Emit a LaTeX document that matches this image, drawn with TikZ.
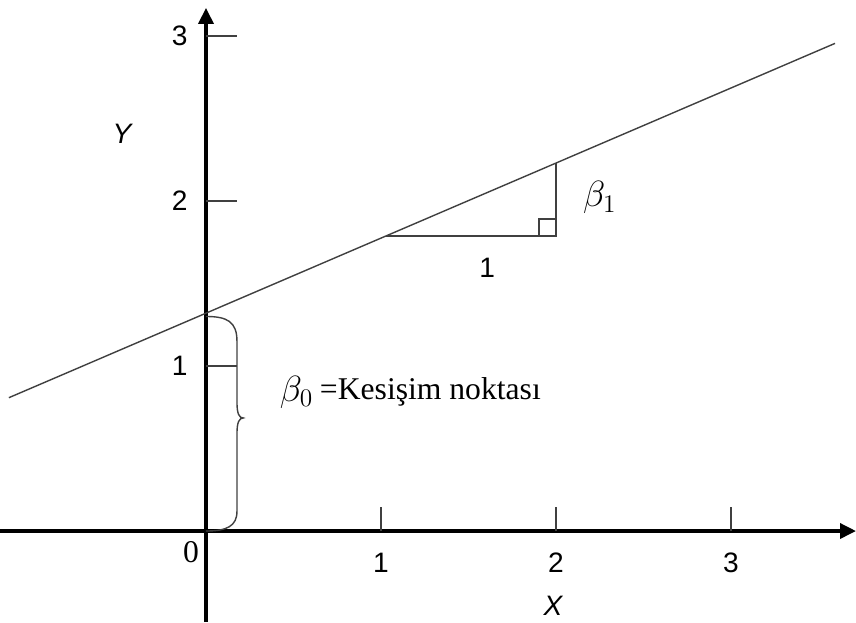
\documentclass[tikz,border=0pt]{standalone}
\usepackage{fontspec}
\setmainfont{Liberation Serif}
\setsansfont{Liberation Sans}
\usetikzlibrary{arrows.meta}

\begin{document}
\begin{tikzpicture}[x=3.5cm, y=3.3cm,
      axis/.style={line width=2pt, -{Triangle[length=0.32cm, width=0.3cm]}},
      thin/.style={line width=0.8pt, black!75},
      ticklbl/.style={font=\sffamily\fontsize{16}{18}\selectfont},
      axislbl/.style={font=\sffamily\itshape\fontsize{16}{18}\selectfont},
      serlbl/.style={font=\fontsize{18}{21}\selectfont},
      betalbl/.style={font=\fontsize{21}{24}\selectfont}
    ]
      \useasboundingbox (-1.177,-0.552) rectangle (3.714,3.218);
      % axes
      \coordinate (O) at (0,0);
      \coordinate (xs) at (-1.177,0);
      \coordinate (xe) at (3.714,0);
      \coordinate (ys) at (0,-0.552);
      \coordinate (ye) at (0,3.17);
      \draw[axis] (xs) -- (xe);
      \draw[axis] (ys) -- (ye);
      \foreach \i in {1,2,3} {
        \draw[thin] (\i,0) -- (\i,0.145);
        \node[ticklbl] (x\i) at (\i,-0.19) {\i};
        \draw[thin] (0,\i) -- (0.177,\i);
        \node[ticklbl] (y\i) at (-0.15,\i) {\i};
      }
      \node[axislbl] (X) at (1.983,-0.455) {X};
      \node[axislbl] (Y) at (-0.48,2.41) {Y};
      \node[font=\fontsize{18}{20}\selectfont] (zero) at (-0.086,-0.127) {0};
      % regression line
      \coordinate (L1) at (-1.126,0.808);
      \coordinate (L2) at (3.594,2.955);
      \draw[thin] (L1) -- (L2);
      % slope triangle
      \coordinate (P) at (1.03,1.789);
      \coordinate (Q) at (2,1.789);
      \coordinate (R) at (2,2.23);
      \draw[thin] (P) -- (Q) -- (R);
      \draw[thin] ([xshift=-0.34cm]Q) |- ([yshift=0.34cm]Q);
      \node[ticklbl] (one) at (1.606,1.594) {1};
      \node[betalbl] (b1) at (2.25,2.02) {$\beta_1$};
      % brace for the intercept
      \draw[thin] (0,1.3) .. controls (0.12,1.3) and (0.177,1.27) .. (0.177,1.15)
        -- (0.177,0.78) .. controls (0.177,0.71) and (0.19,0.685) .. (0.213,0.685)
        .. controls (0.19,0.685) and (0.177,0.66) .. (0.177,0.59)
        -- (0.177,0.12) .. controls (0.177,0.03) and (0.12,0) .. (O);
      \node[betalbl, anchor=west, inner sep=0pt] (b0) at (0.42,0.842) {$\beta_0$};
      \node[serlbl, anchor=west, inner sep=0pt] (b0txt) at ([xshift=0.12cm]b0.east) {=Kesişim noktası};
    \end{tikzpicture}
\end{document}
